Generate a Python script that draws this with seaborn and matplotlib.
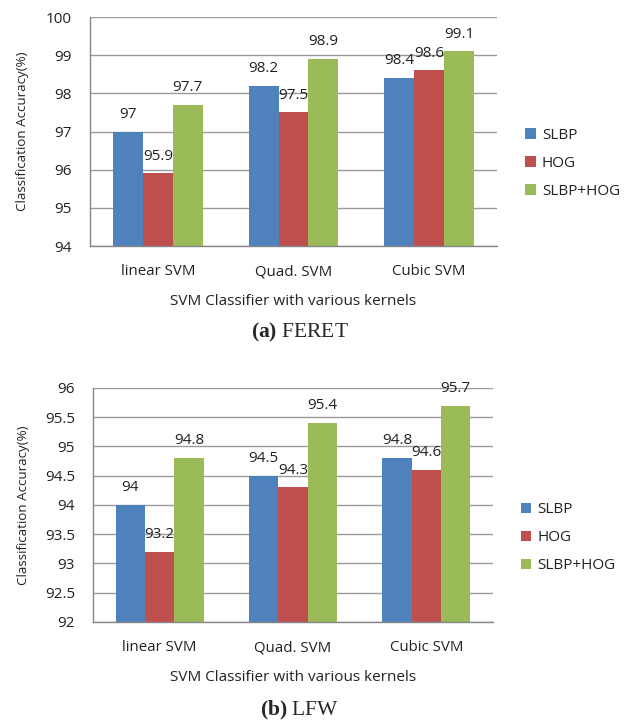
import matplotlib
matplotlib.use("Agg")
import matplotlib.pyplot as plt
import seaborn as sns
import pandas as pd

classifiers = ["linear SVM", "Quad. SVM", "Cubic SVM"]
methods = ["SLBP", "HOG", "SLBP+HOG"]
feret_slbp = [97.0, 98.2, 98.4]
feret_hog = [95.9, 97.5, 98.6]
feret_comb = [97.7, 98.9, 99.1]
lfw_slbp = [94.0, 94.5, 94.8]
lfw_hog = [93.2, 94.3, 94.6]
lfw_comb = [94.8, 95.4, 95.7]
feret_yticks = [94, 95, 96, 97, 98, 99, 100]
lfw_yticks = [92, 92.5, 93, 93.5, 94, 94.5, 95, 95.5, 96]

colors = ["#4F81BD", "#C0504D", "#9BBB59"]

sns.set_style("white")
plt.rcParams["font.family"] = ["Open Sans", "DejaVu Sans"]
plt.rcParams["mathtext.fontset"] = "custom"
plt.rcParams["mathtext.bf"] = "Liberation Serif:bold"
plt.rcParams["mathtext.rm"] = "Liberation Serif"

def make_df(a, b, c):
    rows = []
    for m, vals in zip(methods, [a, b, c]):
        for cl, v in zip(classifiers, vals):
            rows.append({"Classifier": cl, "Method": m, "Accuracy": v})
    return pd.DataFrame(rows)

fig = plt.figure(figsize=(6.27, 7.24), dpi=100)
ax1 = fig.add_axes([0.1435, 0.6602, 0.6492, 0.3163])
ax2 = fig.add_axes([0.1483, 0.1409, 0.6380, 0.3232])

def draw(ax, df, yticks, legend_y, ylx, xly):
    sns.barplot(data=df, x="Classifier", y="Accuracy", hue="Method",
                palette=colors, width=0.66, gap=0, ax=ax, legend=True,
                saturation=1, edgecolor="none")
    ax.set_ylim(yticks[0], yticks[-1])
    ax.set_yticks(yticks)
    ax.set_yticklabels(["%g" % t for t in yticks])
    ax.set_xlim(-0.5, 2.5)
    ax.set_xticks([0, 1, 2])
    ax.set_xticks([-0.5, 0.5, 1.5, 2.5], minor=True)
    ax.tick_params(axis="x", which="major", length=0, pad=13, labelsize=10.8, labelcolor="#222222")
    ax.tick_params(axis="x", which="minor", length=5, color="#868686", direction="out", width=1)
    ax.tick_params(axis="y", length=5, color="#868686", direction="out", width=1, labelsize=11, labelcolor="#222222", pad=8)
    ax.yaxis.grid(True, color="#9a9a9a", linewidth=1)
    ax.set_axisbelow(True)
    for s in ["top", "right"]:
        ax.spines[s].set_visible(False)
    for s in ["left", "bottom"]:
        ax.spines[s].set_color("#868686")
        ax.spines[s].set_linewidth(1)
    ax.set_ylabel("Classification Accuracy(%)", fontsize=9.6, color="#222222")
    ax.yaxis.set_label_coords(ylx, 0.5)
    ax.set_xlabel("SVM Classifier with various kernels", fontsize=11, color="#222222")
    ax.xaxis.set_label_coords(0.5, xly)
    for cont in ax.containers:
        ax.bar_label(cont, fmt="%g", padding=7, fontsize=11, color="#222222")
    leg = ax.legend(loc="center left", bbox_to_anchor=(1.035, legend_y), frameon=False,
                    fontsize=11, handlelength=0.7, handleheight=0.7, handletextpad=0.4,
                    labelspacing=0.85)
    for t in leg.get_texts():
        t.set_color("#222222")

draw(ax1, make_df(feret_slbp, feret_hog, feret_comb), feret_yticks, 0.36, -0.15, -0.21)
draw(ax2, make_df(lfw_slbp, lfw_hog, lfw_comb), lfw_yticks, 0.36, -0.157, -0.205)

fig.text(0.478, 1 - 332 / 724, r"$\mathbf{(a)}$ FERET", ha="center", va="center",
         fontsize=15.5, family="Liberation Serif")
fig.text(0.478, 1 - 710 / 724, r"$\mathbf{(b)}$ LFW", ha="center", va="center",
         fontsize=15.5, family="Liberation Serif")

fig.savefig("out.png", dpi=100)
